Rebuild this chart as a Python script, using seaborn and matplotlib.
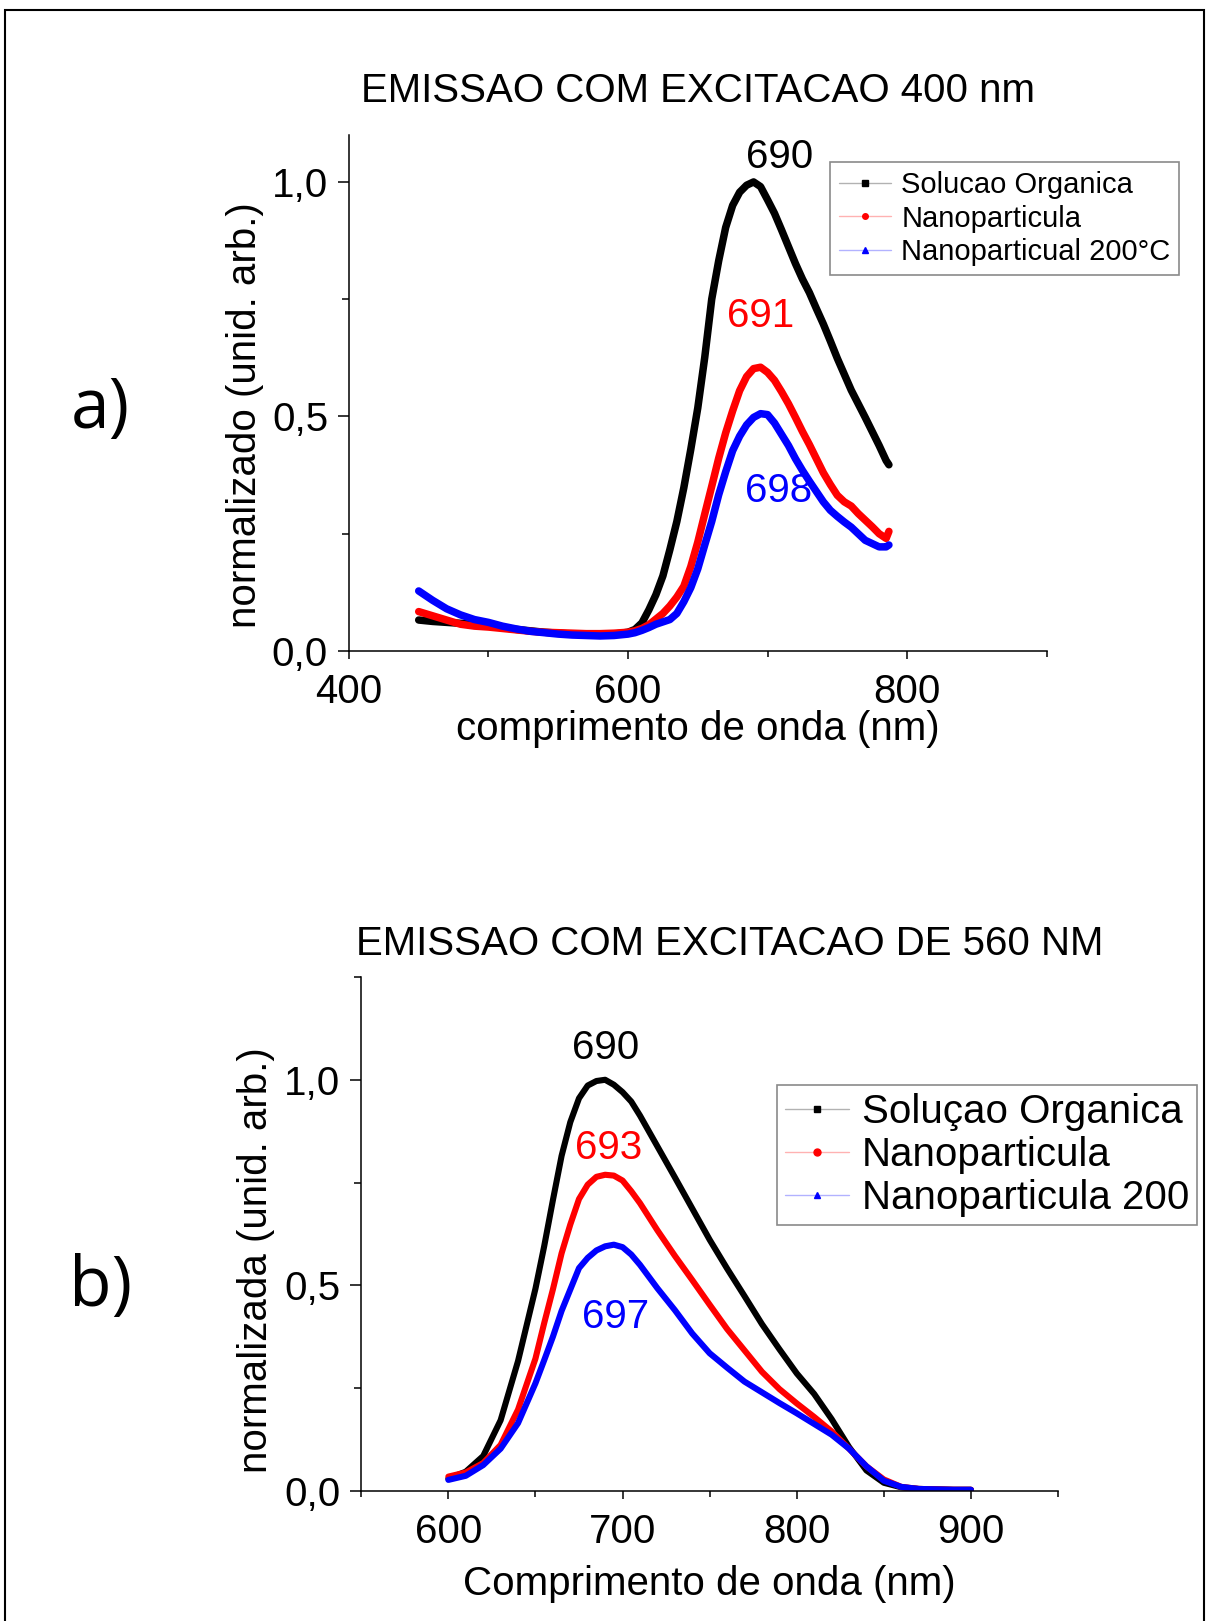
import matplotlib
matplotlib.use("Agg")
import numpy as np
import pandas as pd
import matplotlib.pyplot as plt
from matplotlib.lines import Line2D
from matplotlib.patches import Rectangle
from matplotlib.ticker import MultipleLocator, FuncFormatter
from matplotlib.legend_handler import HandlerTuple
import seaborn as sns

# ---------------- data: emission with 400 nm excitation ----------------
wl_a = [450, 460, 470, 480, 490, 500, 510, 520, 530, 540, 550, 560, 570, 580, 590,
        600, 605, 610, 615, 620, 625, 630, 635, 640, 645, 650, 655, 660, 665, 670,
        675, 680, 685, 690, 695, 700, 705, 710, 715, 720, 725, 730, 735, 740, 745,
        750, 755, 760, 765, 770, 775, 780, 785, 787]
sol_a = [0.066, 0.063, 0.061, 0.059, 0.057, 0.054, 0.050, 0.046, 0.043, 0.040, 0.038,
         0.036, 0.035, 0.035, 0.036, 0.040, 0.046, 0.060, 0.088, 0.120, 0.160, 0.216,
         0.276, 0.348, 0.430, 0.518, 0.626, 0.750, 0.832, 0.903, 0.950, 0.978, 0.993,
         1.000, 0.990, 0.962, 0.933, 0.898, 0.862, 0.826, 0.793, 0.764, 0.730, 0.697,
         0.661, 0.624, 0.590, 0.556, 0.527, 0.498, 0.468, 0.438, 0.406, 0.397]
nano_a = [0.084, 0.075, 0.066, 0.057, 0.053, 0.051, 0.048, 0.045, 0.042, 0.040, 0.039,
          0.038, 0.037, 0.037, 0.038, 0.040, 0.043, 0.048, 0.056, 0.068, 0.080, 0.096,
          0.115, 0.138, 0.180, 0.232, 0.292, 0.351, 0.411, 0.465, 0.512, 0.555, 0.585,
          0.602, 0.605, 0.594, 0.577, 0.553, 0.527, 0.498, 0.468, 0.440, 0.410, 0.380,
          0.355, 0.332, 0.318, 0.309, 0.293, 0.279, 0.265, 0.250, 0.240, 0.255]
nano200_a = [0.128, 0.108, 0.090, 0.077, 0.067, 0.061, 0.053, 0.047, 0.042, 0.039, 0.036,
             0.034, 0.033, 0.032, 0.033, 0.036, 0.039, 0.044, 0.050, 0.057, 0.062, 0.067,
             0.080, 0.105, 0.135, 0.175, 0.226, 0.276, 0.333, 0.382, 0.427, 0.458, 0.482,
             0.498, 0.506, 0.504, 0.486, 0.462, 0.438, 0.410, 0.385, 0.362, 0.340, 0.318,
             0.300, 0.287, 0.275, 0.264, 0.250, 0.236, 0.229, 0.222, 0.222, 0.226]
names_a = ["Solucao Organica", "Nanoparticula", "Nanoparticual 200°C"]
peaks_a = ["690", "691", "698"]

# ---------------- data: emission with 560 nm excitation ----------------
wl_b = [600, 610, 620, 630, 640, 650, 655, 660, 665, 670, 675, 680, 685, 690, 695,
        700, 705, 710, 720, 730, 740, 750, 760, 770, 780, 790, 800, 810, 820, 830,
        840, 850, 860, 870, 880, 890, 900]
sol_b = [0.030, 0.047, 0.085, 0.172, 0.316, 0.492, 0.595, 0.707, 0.815, 0.897, 0.955,
         0.986, 0.997, 1.000, 0.988, 0.970, 0.947, 0.913, 0.838, 0.763, 0.687, 0.611,
         0.541, 0.474, 0.406, 0.345, 0.286, 0.236, 0.175, 0.107, 0.050, 0.020, 0.009,
         0.005, 0.004, 0.003, 0.003]
nano_b = [0.035, 0.045, 0.068, 0.112, 0.198, 0.322, 0.408, 0.490, 0.578, 0.648, 0.710,
          0.745, 0.764, 0.769, 0.767, 0.755, 0.729, 0.700, 0.634, 0.572, 0.513, 0.453,
          0.394, 0.342, 0.290, 0.248, 0.213, 0.180, 0.145, 0.103, 0.060, 0.028, 0.010,
          0.005, 0.004, 0.003, 0.003]
nano200_b = [0.027, 0.037, 0.063, 0.103, 0.165, 0.262, 0.318, 0.375, 0.438, 0.490, 0.542,
             0.567, 0.585, 0.595, 0.599, 0.593, 0.575, 0.550, 0.493, 0.440, 0.383, 0.335,
             0.300, 0.266, 0.240, 0.214, 0.189, 0.163, 0.137, 0.103, 0.060, 0.025, 0.010,
             0.005, 0.004, 0.003, 0.003]
names_b = ["Soluçao Organica", "Nanoparticula", "Nanoparticula 200"]
peaks_b = ["690", "693", "697"]

colors = ["#000000", "#ff0000", "#0000ff"]
markers = ["s", "o", "^"]

sns.set_theme(style="ticks")
plt.rcParams["font.family"] = ["Liberation Sans", "DejaVu Sans"]
plt.rcParams["axes.linewidth"] = 1.1
for key in ("text.color", "axes.labelcolor", "xtick.color", "ytick.color",
            "axes.edgecolor"):
    plt.rcParams[key] = "black"

fig = plt.figure(figsize=(12.07, 16.21), dpi=100)
ax_a = fig.add_axes([0.2891, 0.5984, 0.5780, 0.3183])
ax_b = fig.add_axes([0.2993, 0.0802, 0.5773, 0.3171])


def long_frame(wl, series, names):
    parts = [pd.DataFrame({"wl": wl, "val": s, "amostra": n}) for s, n in zip(series, names)]
    return pd.concat(parts, ignore_index=True)


df_a = long_frame(wl_a, [sol_a, nano_a, nano200_a], names_a)
df_b = long_frame(wl_b, [sol_b, nano_b, nano200_b], names_b)

sns.lineplot(data=df_a, x="wl", y="val", hue="amostra", hue_order=names_a,
             palette=colors, lw=5.4, legend=False, ax=ax_a)
sns.lineplot(data=df_b, x="wl", y="val", hue="amostra", hue_order=names_b,
             palette=colors, lw=4.4, legend=False, ax=ax_b)

comma = FuncFormatter(lambda v, p: f"{v:.1f}".replace(".", ","))

for ax, xl, yl, xmaj, xmin in [(ax_a, (400, 900), (0, 1.1), 200, 100),
                                (ax_b, (550, 950), (0, 1.25), 100, 50)]:
    ax.set_xlim(*xl)
    ax.set_ylim(*yl)
    ax.xaxis.set_major_locator(MultipleLocator(xmaj))
    ax.xaxis.set_minor_locator(MultipleLocator(xmin))
    ax.yaxis.set_major_locator(MultipleLocator(0.5))
    ax.yaxis.set_minor_locator(MultipleLocator(0.25))
    ax.yaxis.set_major_formatter(comma)
    for side in ("top", "right"):
        ax.spines[side].set_visible(False)
    for side in ("left", "bottom"):
        ax.spines[side].set_color("black")
        ax.spines[side].set_linewidth(1.1)
    ax.tick_params(axis="x", which="major", length=6, width=1.1, pad=10,
                   labelsize=29, color="black", labelcolor="black", direction="out")
    ax.tick_params(axis="x", which="minor", length=4.5, width=1.1, color="black",
                   direction="out")
    ax.tick_params(axis="y", which="major", length=8, width=1.1, pad=7,
                   labelsize=29, color="black", labelcolor="black", direction="out")
    ax.tick_params(axis="y", which="minor", length=5, width=1.1, color="black",
                   direction="out")
    ax.set_facecolor("white")

ax_a.set_xlabel("comprimento de onda (nm)", fontsize=29, color="black")
ax_a.set_ylabel("normalizado (unid. arb.)", fontsize=29, color="black")
ax_b.set_xlabel("Comprimento de onda (nm)", fontsize=29, color="black")
ax_b.set_ylabel("normalizada (unid. arb.)", fontsize=29, color="black")
for ax, xc, yc in [(ax_a, (0.5, -0.152), (-0.149, 0.457)),
                   (ax_b, (0.5, -0.180), (-0.151, 0.449))]:
    ax.xaxis.label.set_va("center")
    ax.yaxis.label.set_va("center")
    ax.xaxis.set_label_coords(*xc)
    ax.yaxis.set_label_coords(*yc)

ax_a.text(0.50, 1.085, "EMISSAO COM EXCITACAO 400 nm", transform=ax_a.transAxes,
          ha="center", va="center", fontsize=29, color="black")
ax_b.text(0.529, 1.065, "EMISSAO COM EXCITACAO DE 560 NM", transform=ax_b.transAxes,
          ha="center", va="center", fontsize=29, color="black")

# peak wavelength annotations
for (px, py), s, c in zip([(709, 1.053), (695, 0.714), (708, 0.341)], peaks_a, colors):
    ax_a.text(px, py, s, color=c, fontsize=29, ha="center", va="center")
for (px, py), s, c in zip([(690, 1.077), (692, 0.834), (696, 0.424)], peaks_b, colors):
    ax_b.text(px, py, s, color=c, fontsize=29, ha="center", va="center")


def handles(ms):
    out = []
    for c, m in zip(colors, markers):
        faint = Line2D([], [], color=c, lw=1.0, alpha=0.3)
        dot = Line2D([], [], color=c, lw=0, marker=m, markersize=ms,
                     markerfacecolor=c, markeredgecolor=c)
        out.append((faint, dot))
    return out


common = dict(loc="upper left", frameon=True, fancybox=False, framealpha=1,
              edgecolor="#8a8a8a", borderaxespad=0,
              handler_map={tuple: HandlerTuple(ndivide=1, pad=0)})
leg_a = fig.legend(handles(4), names_a, bbox_to_anchor=(830 / 1207, 1 - 162 / 1621),
                   fontsize=21, handlelength=1.8, handletextpad=0.35,
                   labelspacing=0.2, borderpad=0.3, **common)
leg_b = fig.legend(handles(5), names_b, bbox_to_anchor=(777 / 1207, 1 - 1085 / 1621),
                   fontsize=29, handlelength=1.6, handletextpad=0.3,
                   labelspacing=0.12, borderpad=0.2, **common)
for leg in (leg_a, leg_b):
    leg.get_frame().set_linewidth(1.2)
    for t in leg.get_texts():
        t.set_color("black")

# panel letters
fig.text(100 / 1207, 1 - 410 / 1621, "a)", fontsize=50, ha="center", va="center",
         color="black", family=["Open Sans", "DejaVu Sans"])
fig.text(101 / 1207, 1 - 1288 / 1621, "b)", fontsize=50, ha="center", va="center",
         color="black", family=["Open Sans", "DejaVu Sans"])

# outer frame (open at the bottom edge)
fig.patches.append(Rectangle((0.004, -0.01), 0.9935, 1.0038, transform=fig.transFigure,
                             fill=False, lw=1.5, edgecolor="black"))

fig.savefig("out.png", dpi=100, facecolor="white")
